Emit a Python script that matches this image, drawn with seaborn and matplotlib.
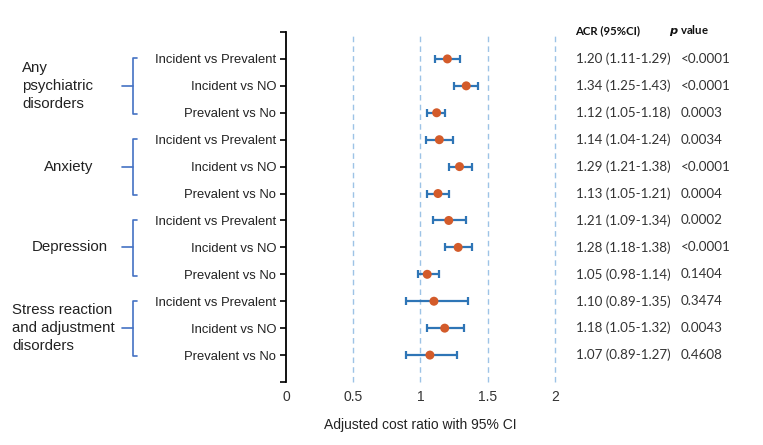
import matplotlib
matplotlib.use("Agg")
import matplotlib.pyplot as plt
import seaborn as sns
import pandas as pd
import numpy as np

# ---- data ----
comparisons = ["Incident vs Prevalent", "Incident vs NO", "Prevalent vs No"] * 4
groups = ["Any\npsychiatric\ndisorders", "Anxiety", "Depression",
          "Stress reaction\nand adjustment\ndisorders"]
acr = [1.20, 1.34, 1.12, 1.14, 1.29, 1.13, 1.21, 1.28, 1.05, 1.10, 1.18, 1.07]
ci_low = [1.11, 1.25, 1.05, 1.04, 1.21, 1.05, 1.09, 1.18, 0.98, 0.89, 1.05, 0.89]
ci_high = [1.29, 1.43, 1.18, 1.24, 1.38, 1.21, 1.34, 1.38, 1.14, 1.35, 1.32, 1.27]
acr_text = ["1.20 (1.11-1.29)", "1.34 (1.25-1.43)", "1.12 (1.05-1.18)",
            "1.14 (1.04-1.24)", "1.29 (1.21-1.38)", "1.13 (1.05-1.21)",
            "1.21 (1.09-1.34)", "1.28 (1.18-1.38)", "1.05 (0.98-1.14)",
            "1.10 (0.89-1.35)", "1.18 (1.05-1.32)", "1.07 (0.89-1.27)"]
p_text = ["<0.0001", "<0.0001", "0.0003", "0.0034", "<0.0001", "0.0004",
          "0.0002", "<0.0001", "0.1404", "0.3474", "0.0043", "0.4608"]
x_ticks = [0, 0.5, 1, 1.5, 2]
x_tick_labels = ["0", "0.5", "1", "1.5", "2"]

sns.set_theme(style="white")
plt.rcParams["font.family"] = ["Liberation Sans", "DejaVu Sans"]

W, H = 763, 445
fig = plt.figure(figsize=(W / 100, H / 100), dpi=100)
ax_l, ax_r, ax_t, ax_b = 286, 555, 32, 382
ax = fig.add_axes([ax_l / W, 1 - ax_b / H, (ax_r - ax_l) / W, (ax_b - ax_t) / H])

pos = np.arange(1, len(acr) + 1)
df = pd.DataFrame({"acr": acr, "lo": ci_low, "hi": ci_high, "pos": pos})

# gridlines
for xv in [0.5, 1, 1.5, 2]:
    ax.axvline(xv, color="#9DC3E6", lw=1.0, ls=(0, (4, 3)), zorder=0, clip_on=False)

err = np.array([df["acr"] - df["lo"], df["hi"] - df["acr"]])
ax.errorbar(df["acr"], df["pos"], xerr=err, fmt="none", ecolor="#2E75B6",
            elinewidth=1.6, capsize=3.2, capthick=1.6, zorder=2)
sns.scatterplot(data=df, x="acr", y="pos", color="#D35B2A", s=42,
                edgecolor="none", zorder=3, ax=ax, legend=False)

ax.set_xlim(0, 2)
ax.set_ylim(13, 0)
ax.set_yticks(np.arange(0, 14))
ax.set_yticklabels([""] + comparisons + [""])
ax.set_xticks(x_ticks)
ax.set_xticklabels(x_tick_labels)
ax.tick_params(axis="y", which="both", left=True, length=4, width=1.2,
               color="black", labelsize=9.4, labelcolor="#222222", pad=3)
ax.tick_params(axis="x", length=0, labelsize=10, labelcolor="#333333", pad=6)
for s in ["top", "right", "bottom"]:
    ax.spines[s].set_visible(False)
ax.spines["left"].set_color("black")
ax.spines["left"].set_linewidth(1.3)
ax.set_xlabel("Adjusted cost ratio with 95% CI", fontsize=10, color="#222222",
              labelpad=10)
ax.set_ylabel("")

tr = ax.get_yaxis_transform()  # x in axes fraction, y in data


def fx(px):
    return (px - ax_l) / (ax_r - ax_l)


# group brackets and labels
bracket_color = "#4472C4"
label_specs = [
    (22, "left"), (69, "center"), (70, "center"), (12, "left")
]
for g in range(4):
    top = 3 * g + 1 - 0.02
    bot = 3 * g + 3 + 0.05
    mid = 3 * g + 2
    xv, xh, xm = fx(133), fx(137), fx(122)
    ax.plot([xh, xv, xv, xh], [top, top, bot, bot], color=bracket_color,
            lw=1.2, transform=tr, clip_on=False)
    ax.plot([xm, xv], [mid, mid], color=bracket_color, lw=1.2,
            transform=tr, clip_on=False)
    px, ha = label_specs[g]
    ax.text(fx(px), mid, groups[g], transform=tr, ha=ha, va="center",
            fontsize=10.8, color="#222222", linespacing=1.38)

# right-hand table
tfont = ["Lato", "DejaVu Sans"]
ax.text(fx(575), -0.04, "ACR (95%CI)", transform=tr, ha="left", va="center",
        fontsize=8.2, fontweight="bold", family=tfont, color="#111111")
ax.text(fx(669), -0.04, r"$\bfit{p}$ value", transform=tr, ha="left",
        va="center", fontsize=8.2, fontweight="bold", family=tfont, color="#111111")
for i in range(len(acr)):
    ax.text(fx(576), pos[i], acr_text[i], transform=tr, ha="left", va="center",
            fontsize=9.6, family=tfont, color="#333333")
    ax.text(fx(681), pos[i], p_text[i], transform=tr, ha="left", va="center",
            fontsize=9.6, family=tfont, color="#333333")

fig.savefig("out.png", dpi=100, facecolor="white")
